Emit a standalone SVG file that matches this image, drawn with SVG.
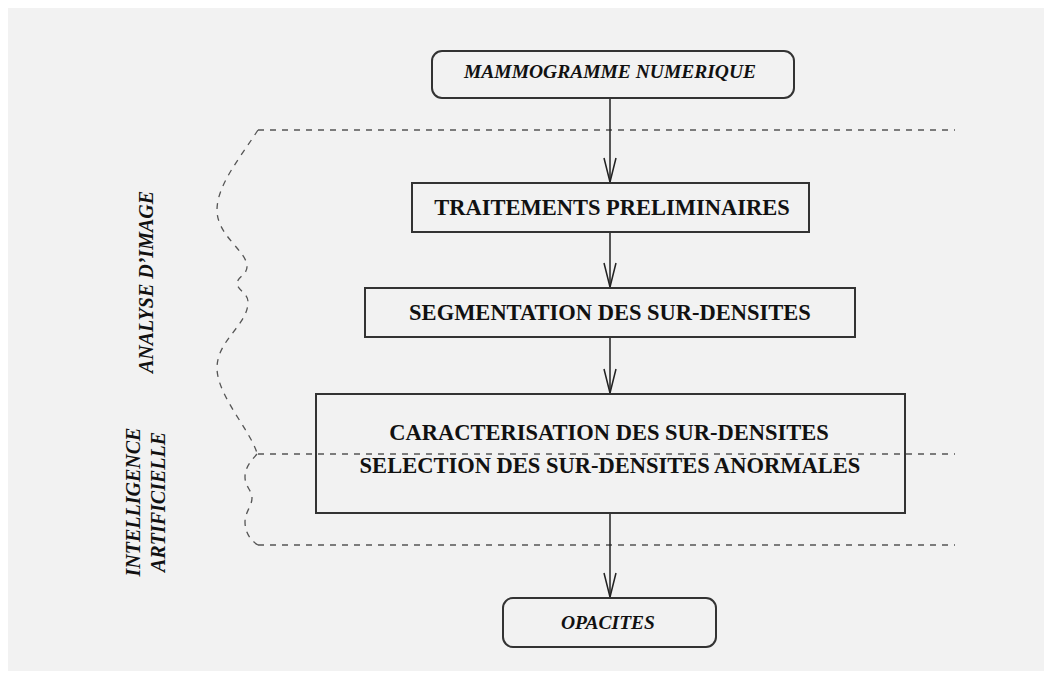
<svg xmlns="http://www.w3.org/2000/svg" width="1052" height="679" viewBox="0 0 1052 679">
<style>
.box{fill:none;stroke:#333;stroke-width:2}
.lbl{font-family:"Liberation Serif","Times New Roman",serif;font-weight:bold;fill:#111;text-anchor:middle}
.it{font-style:italic;font-size:19.5px}
.rg{font-size:22.5px}
.side{font-family:"Liberation Serif","Times New Roman",serif;font-weight:bold;font-style:italic;font-size:20px;fill:#111;text-anchor:middle}
.dash{fill:none;stroke:#555;stroke-width:1.3;stroke-dasharray:6 6}
.conn{fill:none;stroke:#222;stroke-width:1.5;marker-end:url(#arr)}
</style>
<defs>
<marker id="arr" markerUnits="userSpaceOnUse" markerWidth="28" markerHeight="16" refX="25" refY="7" orient="auto">
<path d="M1,1 L25,7 L1,13" fill="none" stroke="#222" stroke-width="1.5"/>
</marker>
</defs>
<rect x="0" y="0" width="1052" height="679" fill="#ffffff"/>
<rect x="8" y="8" width="1036" height="663" fill="#f2f2f2"/>

<g id="zones">
<path class="dash" d="M258,130 H955"/>
<path class="dash" d="M258,454 H955"/>
<path class="dash" d="M258,545 H955"/>
<path class="dash" d="M258,130 C240,158 217,185 217,210 C217,235 245,250 247,265 C248,275 238,276 237,283 C237,290 248,293 248,302 C248,325 217,340 217,368 C217,395 250,430 257,453"/>
<path class="dash" d="M257,454 C250,462 245,468 245,477 C245,487 252,490 252,498 C252,506 245,512 245,522 C245,532 250,540 258,545"/>
</g>

<g id="side-labels">
<text class="side" transform="translate(153,282) rotate(-90)">ANALYSE D’IMAGE</text>
<text class="side" transform="translate(140,502) rotate(-90)">INTELLIGENCE</text>
<text class="side" transform="translate(165,502) rotate(-90)">ARTIFICIELLE</text>
</g>

<g id="connectors">
<path class="conn" d="M610,98 V182"/>
<path class="conn" d="M610,232 V287"/>
<path class="conn" d="M610,337 V393"/>
<path class="conn" d="M610,513 V597"/>
</g>

<g id="n-mammogramme">
<rect class="box" x="432" y="51" width="362" height="47" rx="10"/>
<text class="lbl it" x="610" y="78">MAMMOGRAMME NUMERIQUE</text>
</g>
<g id="n-traitements">
<rect class="box" x="412" y="183" width="397" height="49"/>
<text class="lbl rg" x="612" y="215">TRAITEMENTS PRELIMINAIRES</text>
</g>
<g id="n-segmentation">
<rect class="box" x="365" y="288" width="490" height="49"/>
<text class="lbl rg" x="610" y="320">SEGMENTATION DES SUR-DENSITES</text>
</g>
<g id="n-caracterisation">
<rect class="box" x="316" y="394" width="589" height="119"/>
<text class="lbl rg" x="609" y="440">CARACTERISATION DES SUR-DENSITES</text>
<text class="lbl rg" x="610" y="473">SELECTION DES SUR-DENSITES ANORMALES</text>
</g>
<g id="n-opacites">
<rect class="box" x="503" y="598" width="213" height="49" rx="10"/>
<text class="lbl it" x="608" y="629">OPACITES</text>
</g>
</svg>
